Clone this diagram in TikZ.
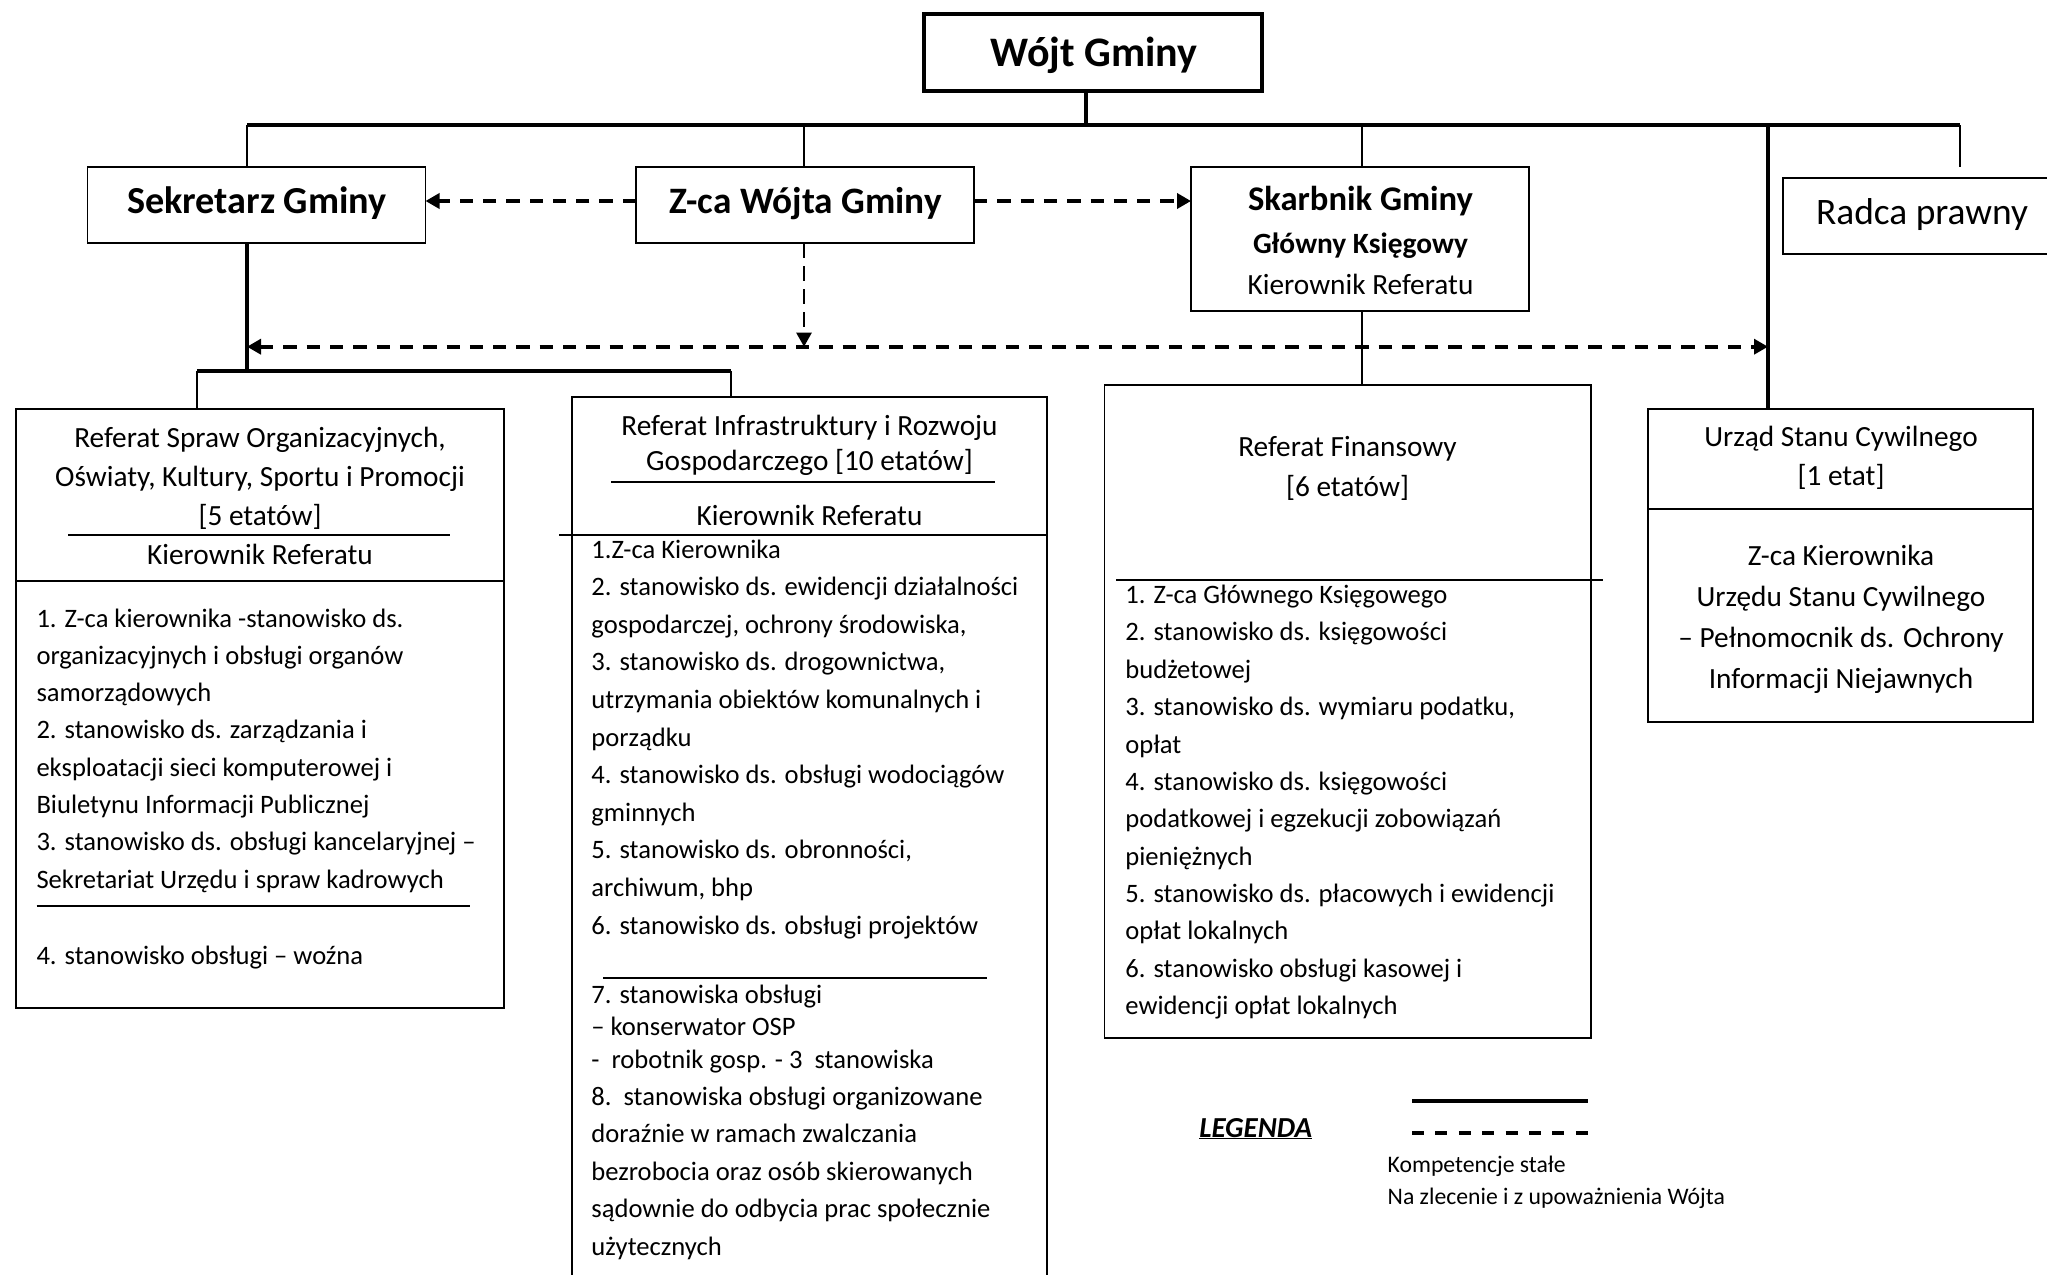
\documentclass[tikz,border=0pt]{standalone}
\usepackage{fontspec}
\setmainfont{Carlito}
\usetikzlibrary{arrows.meta}
\begin{document}
\begin{tikzpicture}[x=1pt,y=-1pt,
  frame/.style={draw, line width=1.8pt, inner sep=0pt, outer sep=0pt},
  txt/.style={inner sep=0pt, outer sep=0pt},
  hdr/.style={txt, anchor=north, align=center, font=\fontsize{29.3}{#1}\selectfont},
  lst/.style={txt, anchor=north west, align=left, font=\fontsize{26.6}{#1}\selectfont},
  bigbold/.style={txt, anchor=base, font=\bfseries\fontsize{#1}{#1}\selectfont},
  conn/.style={line width=2.8pt},
  heavy/.style={line width=3.8pt},
  rule/.style={line width=1.6pt},
  dsh/.style={line width=3.8pt, dash pattern=on 13.3pt off 10pt},
  dshv/.style={line width=2.5pt, dash pattern=on 15pt off 8pt},
  tipend/.style={-{Triangle[length=14pt,width=15pt]}},
  tipboth/.style={{Triangle[length=14pt,width=15pt]}-{Triangle[length=14pt,width=15pt]}},
]
\useasboundingbox (0,0) rectangle (2047,1274);
\fill[white] (0,0) rectangle (2047,1274);

% ---------- top level boxes
\node[frame, line width=3.8pt, minimum width=338pt, minimum height=77pt] (wojt) at (1093,52.5) {};
\node[bigbold=42] (wojtT) at (1094,66) {Wójt Gminy};

\node[frame, minimum width=338pt, minimum height=76pt] (sek) at (256.5,205) {};
\node[bigbold=38.2] (sekT) at (256.8,213) {Sekretarz Gminy};

\node[frame, minimum width=338pt, minimum height=76pt] (zca) at (805,205) {};
\node[bigbold=37.3] (zcaT) at (805.6,213) {Z-ca Wójta Gminy};

\node[frame, minimum width=338pt, minimum height=144pt] (skar) at (1360,239) {};
\node[bigbold=34.6] (skarT1) at (1360.5,210.5) {Skarbnik Gminy};
\node[bigbold=29.4] (skarT2) at (1360.5,253.5) {Główny Księgowy};
\node[txt, anchor=base, font=\fontsize{29.3}{29.3}\selectfont] (skarT3) at (1360.5,294.5) {Kierownik Referatu};

\node[frame, minimum width=290pt, minimum height=76pt] (rad) at (1928,216) {};
\node[txt, anchor=base, font=\fontsize{37.4}{37.4}\selectfont] (radT) at (1922,224.5) {Radca prawny};

% ---------- department boxes
\node[frame, minimum width=488.3pt, minimum height=599.4pt] (b1) at (259.85,708.3) {};
\node[frame, minimum width=475pt, minimum height=893pt] (b2) at (809.5,843.5) {};
\node[frame, minimum width=486.5pt, minimum height=653pt] (b3) at (1347.75,711.5) {};
\node[frame, minimum width=385.1pt, minimum height=313.4pt] (b4) at (1840.15,565.3) {};

% helper coordinates
\coordinate (l1) at (0,581);
\coordinate (l2a) at (559,535);
\coordinate (l3a) at (1116,580);
\coordinate (l3b) at (1603,580);
\coordinate (l4) at (0,509);

% box 1
\draw[frame] (b1.west |- l1) -- (b1.east |- l1);
\node[hdr=39.3] (b1h) at (260,419.5) {\strut Referat Spraw Organizacyjnych,\\Oświaty, Kultury, Sportu i Promocji\\{}[5 etatów]\\Kierownik Referatu};
\draw[rule] (68,535) -- (450,535);
\node[lst=37.3] (b1l) at (36.5,600.9) {\strut 1. Z-ca kierownika -stanowisko ds.\\organizacyjnych i obsługi organów\\samorządowych\\2. stanowisko ds. zarządzania i\\eksploatacji sieci komputerowej i\\Biuletynu Informacji Publicznej\\3. stanowisko ds. obsługi kancelaryjnej –\\Sekretariat Urzędu i spraw kadrowych};
\draw[rule] (36.5,906) -- (470,906);
\node[txt, anchor=base west, font=\fontsize{26.6}{37.3}\selectfont] (b1l4) at (36.5,964) {4. stanowisko obsługi – woźna};

% box 2
\node[hdr=35] (b2h) at (809.5,410.5) {\strut Referat Infrastruktury i Rozwoju\\Gospodarczego [10 etatów]};
\draw[rule] (611,482) -- (995,482);
\node[txt, anchor=base, font=\fontsize{29.3}{35}\selectfont] (b2k) at (809.5,525) {Kierownik Referatu};
\draw[frame] (l2a) -- (l2a -| b2.east);
\node[lst=37.6] (b2l) at (591.4,531.7) {\strut 1.Z-ca Kierownika\\2. stanowisko ds. ewidencji działalności\\gospodarczej, ochrony środowiska,\\3. stanowisko ds. drogownictwa,\\utrzymania obiektów komunalnych i\\porządku\\4. stanowisko ds. obsługi wodociągów\\gminnych\\5. stanowisko ds. obronności,\\archiwum, bhp\\6. stanowisko ds. obsługi projektów};
\draw[rule] (603,978) -- (987,978);
\node[lst=32.5] (b2l7) at (591.4,980.25) {\strut 7. stanowiska obsługi\\– konserwator OSP\\-\ \ robotnik gosp. - 3\ \ stanowiska};
\node[lst=37.5] (b2l8) at (591.4,1078.75) {\strut 8.\ \ stanowiska obsługi organizowane\\doraźnie w ramach zwalczania\\bezrobocia oraz osób skierowanych\\sądownie do odbycia prac społecznie\\użytecznych};

% box 3
\node[hdr=40] (b3h) at (1347.5,428) {\strut Referat Finansowy\\{}[6 etatów]};
\draw[frame] (l3a) -- (l3b);
\node[lst=37.36] (b3l) at (1125.4,577.45) {\strut 1. Z-ca Głównego Księgowego\\2. stanowisko ds. księgowości\\budżetowej\\3. stanowisko ds. wymiaru podatku,\\opłat\\4. stanowisko ds. księgowości\\podatkowej i egzekucji zobowiązań\\pieniężnych\\5. stanowisko ds. płacowych i ewidencji\\opłat lokalnych\\6. stanowisko obsługi kasowej i\\ewidencji opłat lokalnych};

% box 4
\node[hdr=39.4] (b4h) at (1841,419) {\strut Urząd Stanu Cywilnego\\{}[1 etat]};
\draw[frame] (b4.west |- l4) -- (b4.east |- l4);
\node[hdr=41] (b4l) at (1841,536.3) {\strut Z-ca Kierownika\\Urzędu Stanu Cywilnego\\– Pełnomocnik ds. Ochrony\\Informacji Niejawnych};

% ---------- connectors
\coordinate (busL) at (247,125);
\coordinate (busR) at (1960,125);
\coordinate (wst) at (1086,125);
\coordinate (zst) at (804,125);
\coordinate (sst) at (1362,125);
\coordinate (ust) at (1768,125);
\coordinate (radst) at (1960,167);
\coordinate (sj) at (247,370.8);
\coordinate (bl1) at (197,370.8);
\coordinate (br2) at (731,370.8);
\coordinate (dl) at (247,346.7);
\coordinate (dr) at (1768,346.7);

\draw[heavy] (wojt.south -| wst) -- (wst);
\draw[heavy] (busL) -- (busR);
\draw[conn] (busL) -- (busL |- sek.north);
\draw[conn] (zst) -- (zst |- zca.north);
\draw[conn] (sst) -- (sst |- skar.north);
\draw[conn] (busR) -- (radst);
\draw[heavy] (ust) -- (ust |- b4.north);
\draw[heavy] (sek.south -| busL) -- (sj);
\draw[heavy] (bl1) -- (br2);
\draw[conn] (bl1) -- (bl1 |- b1.north);
\draw[conn] (br2) -- (br2 |- b2.north);
\draw[conn] (skar.south -| sst) -- (sst |- b3.north);

\draw[dsh, tipend] ([yshift=4pt]zca.west) -- ([yshift=4pt]zca.west -| sek.east);
\draw[dsh, tipend] ([yshift=4pt]zca.east) -- ([yshift=4pt]zca.east -| skar.west);
\draw[dshv, tipend] (zca.south -| zst) -- (zst |- dl);
\draw[dsh, tipboth] (dl) -- (dr);

% ---------- legend
\node[txt, anchor=base, font=\bfseries\itshape\fontsize{29}{29}\selectfont] (legT) at (1255.7,1137) {\underline{LEGENDA}};
\coordinate (lg1a) at (1412,1100.6);
\coordinate (lg1b) at (1588,1100.6);
\coordinate (lg2a) at (1412,1133);
\coordinate (lg2b) at (1588,1133);
\draw[line width=4pt] (lg1a) -- (lg1b);
\draw[line width=3.8pt, dash pattern=on 12pt off 11.4pt] (lg2a) -- (lg2b);
\node[txt, anchor=base west, font=\fontsize{23.7}{32}\selectfont] (legK) at (1387.7,1172.5) {Kompetencje stałe};
\node[txt, anchor=base west, font=\fontsize{23.7}{32}\selectfont] (legN) at (1387.7,1204.5) {Na zlecenie i z upoważnienia Wójta};
\end{tikzpicture}
\end{document}
